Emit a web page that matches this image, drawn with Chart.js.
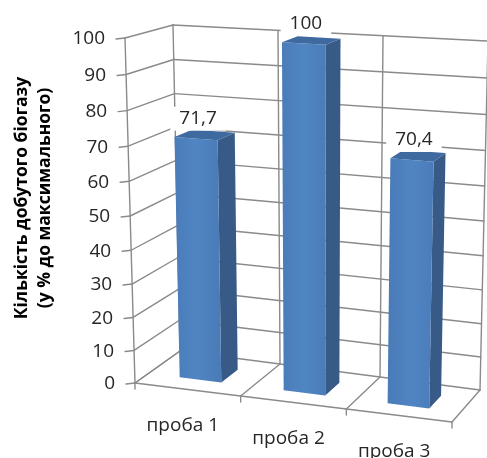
<!DOCTYPE html>
<html>
<head>
<meta charset="utf-8">
<script src="https://cdn.jsdelivr.net/npm/chart.js@4.4.0/dist/chart.umd.min.js"></script>
<style>
  html, body { margin: 0; padding: 0; background: #fff; }
  #wrap { width: 487px; height: 458px; position: relative; }
</style>
</head>
<body>
<div id="wrap"><canvas id="chart"></canvas></div>
<script>
// --- DATA ---
const categories = ['проба 1', 'проба 2', 'проба 3'];
const biogasValues = [71.7, 100, 70.4];
const valueLabels = ['71,7', '100', '70,4'];
const yTickValues = [0, 10, 20, 30, 40, 50, 60, 70, 80, 90, 100];
const yTitle = ['Кількість добутого біогазу', '(у % до максимального)'];

// --- 3D VIEW (screen corners of the plot box, Excel-like perspective) ---
const view = {
    flb: [135, 383], frb: [452, 422], flt: [125, 38], frt: [460, 58],
    blb: [180, 351], brb: [480, 390], blt: [173, 25], brt: [488, 41],
    persp: -0.0618,
    barFront: 0.3, barBack: 0.7
};

const gridColor = '#8a8a8a';
const font = '"Open Sans", "DejaVu Sans", sans-serif';

const lerp = (a, b, t) => [a[0] + (b[0] - a[0]) * t, a[1] + (b[1] - a[1]) * t];

// u: across categories (0..1), v: value (0..1), w: depth (0 front .. 1 back)
const proj = (u, v, w) => {
    const s = v * (1 + view.persp) / (1 + view.persp * v);
    const f = lerp(lerp(view.flb, view.frb, u), lerp(view.flt, view.frt, u), s);
    const b = lerp(lerp(view.blb, view.brb, u), lerp(view.blt, view.brt, u), s);
    return lerp(f, b, w);
};

const line = (ctx, a, b) => {
    ctx.beginPath();
    ctx.moveTo(a[0], a[1]);
    ctx.lineTo(b[0], b[1]);
    ctx.stroke();
};

const poly = (ctx, pts, fill) => {
    ctx.beginPath();
    ctx.moveTo(pts[0][0], pts[0][1]);
    pts.slice(1).forEach(p => ctx.lineTo(p[0], p[1]));
    ctx.closePath();
    ctx.fillStyle = fill;
    ctx.fill();
};

// helpers that turn library pixels into box coordinates
const toU = (chart, px) => (px - chart.chartArea.left) / (chart.chartArea.right - chart.chartArea.left);
const toV = (chart, py) => (chart.chartArea.bottom - py) / (chart.chartArea.bottom - chart.chartArea.top);

const categoryBounds = (chart) => {
    const xs = chart.scales.x;
    const bounds = [0];
    for (let i = 0; i < categories.length - 1; i++) {
        bounds.push(toU(chart, (xs.getPixelForValue(i) + xs.getPixelForValue(i + 1)) / 2));
    }
    bounds.push(1);
    return bounds;
};

const box3d = {
    id: 'box3d',
    beforeDatasetsDraw(chart) {
        const ctx = chart.ctx;
        const ys = chart.scales.y;
        ctx.save();
        ctx.strokeStyle = gridColor;
        ctx.lineWidth = 1.4;
        ctx.lineCap = 'round';

        // value gridlines: left wall + back wall
        yTickValues.forEach(t => {
            const v = toV(chart, ys.getPixelForValue(t));
            line(ctx, proj(0, v, 0), proj(0, v, 1));
            line(ctx, proj(0, v, 1), proj(1, v, 1));
            // tick mark on the front axis
            const p = proj(0, v, 0);
            line(ctx, [p[0] - 9, p[1] + 1], p);
        });

        // verticals: front axis and back wall category dividers
        line(ctx, proj(0, 0, 0), proj(0, 1, 0));
        categoryBounds(chart).forEach(u => {
            line(ctx, proj(u, 0, 1), proj(u, 1, 1));
            // floor dividers
            line(ctx, proj(u, 0, 0), proj(u, 0, 1));
            // tick below front edge
            const p = proj(u, 0, 0);
            line(ctx, p, [p[0], p[1] + 6]);
        });

        // floor front edge
        line(ctx, proj(0, 0, 0), proj(1, 0, 0));
        ctx.restore();
    },
    afterDatasetsDraw(chart) {
        const ctx = chart.ctx;
        const meta = chart.getDatasetMeta(0);
        ctx.save();

        // 3D columns
        meta.data.forEach(bar => {
            const u0 = toU(chart, bar.x - bar.width / 2);
            const u1 = toU(chart, bar.x + bar.width / 2);
            const vt = toV(chart, bar.y);
            const w0 = view.barFront, w1 = view.barBack;
            poly(ctx, [proj(u1, 0, w0), proj(u1, 0, w1), proj(u1, vt, w1), proj(u1, vt, w0)], '#375a87');
            const g = ctx.createLinearGradient(proj(u0, vt, w0)[0], 0, proj(u1, vt, w0)[0], 0);
            g.addColorStop(0, '#4a7cb8');
            g.addColorStop(0.5, '#5085c4');
            g.addColorStop(1, '#4a7cb8');
            poly(ctx, [proj(u0, 0, w0), proj(u1, 0, w0), proj(u1, vt, w0), proj(u0, vt, w0)], g);
            poly(ctx, [proj(u0, vt, w0), proj(u1, vt, w0), proj(u1, vt, w1), proj(u0, vt, w1)], '#3f6aa0');
        });

        // value labels with white boxes
        ctx.font = '19px ' + font;
        ctx.textAlign = 'center';
        ctx.textBaseline = 'middle';
        meta.data.forEach((bar, i) => {
            const uc = toU(chart, bar.x);
            const vt = toV(chart, bar.y);
            const p = proj(uc, vt, view.barFront);
            const x = p[0] + 2, y = p[1] - 20;
            const tw = ctx.measureText(valueLabels[i]).width;
            ctx.fillStyle = '#fff';
            ctx.fillRect(x - tw / 2 - 9, y - 12, tw + 18, 24);
            ctx.fillStyle = '#262626';
            ctx.fillText(valueLabels[i], x, y);
        });

        // y tick labels
        const ys = chart.scales.y;
        ctx.textAlign = 'right';
        yTickValues.forEach(t => {
            const p = proj(0, toV(chart, ys.getPixelForValue(t)), 0);
            ctx.fillText(String(t), p[0] - 20, p[1] + 1);
        });

        // category labels
        ctx.textAlign = 'center';
        const xs = chart.scales.x;
        categories.forEach((c, i) => {
            const p = proj(toU(chart, xs.getPixelForValue(i)), 0, 0);
            ctx.fillText(c, p[0] - 5, p[1] + 36);
        });

        // axis title
        ctx.font = 'bold 17.5px ' + font;
        ctx.fillStyle = '#000';
        ctx.translate(0, 198);
        ctx.rotate(-Math.PI / 2);
        ctx.fillText(yTitle[0], 0, 22);
        ctx.fillText(yTitle[1], 0, 45);
        ctx.restore();
    }
};

new Chart(document.getElementById('chart'), {
    type: 'bar',
    data: {
        labels: categories,
        datasets: [{
            data: biogasValues,
            backgroundColor: 'rgba(0,0,0,0)',
            borderWidth: 0,
            categoryPercentage: 0.8,
            barPercentage: 0.5
        }]
    },
    options: {
        responsive: true,
        maintainAspectRatio: false,
        animation: false,
        layout: { padding: 0 },
        plugins: { legend: { display: false }, tooltip: { enabled: false } },
        scales: {
            x: { display: false },
            y: { display: false, min: 0, max: 100 }
        }
    },
    plugins: [box3d]
});
</script>
</body>
</html>
